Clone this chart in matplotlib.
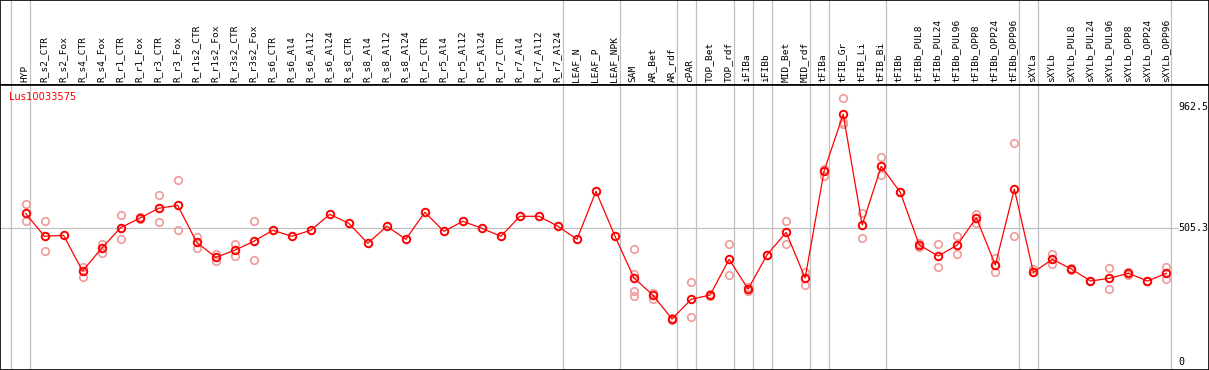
import matplotlib

matplotlib.use("Agg")
import matplotlib.pyplot as plt
import matplotlib.transforms as mtransforms

gene = "Lus10033575"

samples = [
    "HYP", "R_s2_CTR", "R_s2_Fox", "R_s4_CTR", "R_s4_Fox", "R_r1_CTR", "R_r1_Fox",
    "R_r3_CTR", "R_r3_Fox", "R_r1s2_CTR", "R_r1s2_Fox", "R_r3s2_CTR", "R_r3s2_Fox",
    "R_s6_CTR", "R_s6_Al4", "R_s6_Al12", "R_s6_Al24", "R_s8_CTR", "R_s8_Al4",
    "R_s8_Al12", "R_s8_Al24", "R_r5_CTR", "R_r5_Al4", "R_r5_Al12", "R_r5_Al24",
    "R_r7_CTR", "R_r7_Al4", "R_r7_Al12", "R_r7_Al24", "LEAF_N", "LEAF_P", "LEAF_NPK",
    "SAM", "AR_Bet", "AR_rdf", "cPAR", "TOP_Bet", "TOP_rdf", "iFIBa", "iFIBb",
    "MID_Bet", "MID_rdf", "tFIBa", "tFIB_Gr", "tFIB_Li", "tFIB_Bi", "tFIBb",
    "tFIBb_PUL8", "tFIBb_PUL24", "tFIBb_PUL96", "tFIBb_OPP8", "tFIBb_OPP24",
    "tFIBb_OPP96", "sXYLa", "sXYLb", "sXYLb_PUL8", "sXYLb_PUL24", "sXYLb_PUL96",
    "sXYLb_OPP8", "sXYLb_OPP24", "sXYLb_OPP96",
]

means = [
    560.7, 474.0, 477.7, 343.1, 428.7, 506.4, 541.8, 579.5, 590.8, 451.3, 394.8,
    421.2, 455.1, 496.6, 474.0, 496.6, 556.9, 523.0, 447.6, 511.7, 462.7, 564.5,
    492.8, 530.5, 504.1, 474.0, 549.4, 549.4, 511.7, 462.7, 643.7, 474.0,
    316.7, 251.5, 162.1, 236.4, 252.6, 387.2, 275.3, 404.6, 489.0, 316.7,
    721.4, 934.0, 516.6, 737.9, 639.9, 441.2, 399.7, 441.2, 544.1, 365.8, 652.3,
    338.2, 387.2, 350.7, 305.4, 315.6, 334.5, 305.4, 334.5,
]

replicates = [
    [596, 530], [530, 417], [], [359, 322], [446, 411], [553, 463], [545, 538],
    [628, 527], [685, 497], [472, 430], [408, 381], [445, 400], [530, 385],
    [], [], [], [], [], [], [], [], [], [], [], [], [], [], [], [], [], [], [],
    [425, 331, 269, 249], [261, 238], [165, 160], [300, 169], [257, 248],
    [445, 328], [284, 266], [404, 405], [530, 445], [340, 289], [726, 701],
    [994, 905, 898], [562, 466], [772, 704], [640, 640], [448, 434], [445, 357],
    [475, 407], [557, 525], [391, 338], [825, 474], [351, 338], [407, 370],
    [356, 346], [306, 305], [353, 276], [340, 329], [306, 305], [358, 313],
]

# last sample index of each tissue group
group_ends = [0, 28, 31, 34, 35, 37, 38, 39, 41, 42, 45, 52, 53, 60]

yticks = [0, 505.3, 962.5]
ytick_labels = ["0", "505.3", "962.5"]

W, H = 1209, 370
x0_px, step_px = 26, 19
top_px = 85


def px_to_idx(px):
    return (px - x0_px) / step_px


def py_to_val(py):
    return (362 - py) / 0.2652


fig = plt.figure(figsize=(W / 100, H / 100), dpi=100)
ax_top = fig.add_axes([0, 1 - top_px / H, 1, top_px / H])
ax = fig.add_axes([0, 0, 1, 1 - top_px / H])

xlim = (px_to_idx(0.5), px_to_idx(W - 0.5))
for a in (ax_top, ax):
    a.set_xlim(*xlim)
    a.set_xticks([])
    a.set_yticks([])
    for s in a.spines.values():
        s.set_color("black")
        s.set_linewidth(1.2)
    for b in [-1 + 0.24] + [g + 0.24 for g in group_ends]:
        a.axvline(b, color="#c0c0c0", lw=0.9, zorder=0)

ax.set_ylim(py_to_val(H), py_to_val(top_px))
ax_top.set_ylim(0, 1)

# sample labels
for i, name in enumerate(samples):
    ax_top.text(i - 0.05, 0.03, name, rotation=90, ha="center", va="bottom",
                family="DejaVu Sans Mono", fontsize=6.8, color="black")

# reference line
ax.plot([xlim[0], px_to_idx(1177)], [505.3, 505.3], color="#c0c0c0", lw=0.9, zorder=0)

# replicates
for i, vals in enumerate(replicates):
    if vals:
        ax.plot([i] * len(vals), vals, linestyle="none", marker="o", ms=5.4,
                mfc="none", mec="#f09a9a", mew=1.2, zorder=2)

ax.plot(range(len(means)), means, color="red", lw=0.9, marker="o", ms=5.4,
        mfc="none", mec="red", mew=1.4, zorder=3)

ax.text(9.5 / W, 1 - 12 / (H - top_px), gene, transform=ax.transAxes,
        color="red", fontsize=7.1, ha="left", va="center")

trans = mtransforms.blended_transform_factory(ax.transAxes, ax.transData)
for v, lab in zip(yticks, ytick_labels):
    ax.text(1178 / W, v, lab, transform=trans, ha="left", va="center",
            family="DejaVu Sans Mono", fontsize=7.2, color="black")

fig.savefig("out.png", dpi=100)
plt.close(fig)
